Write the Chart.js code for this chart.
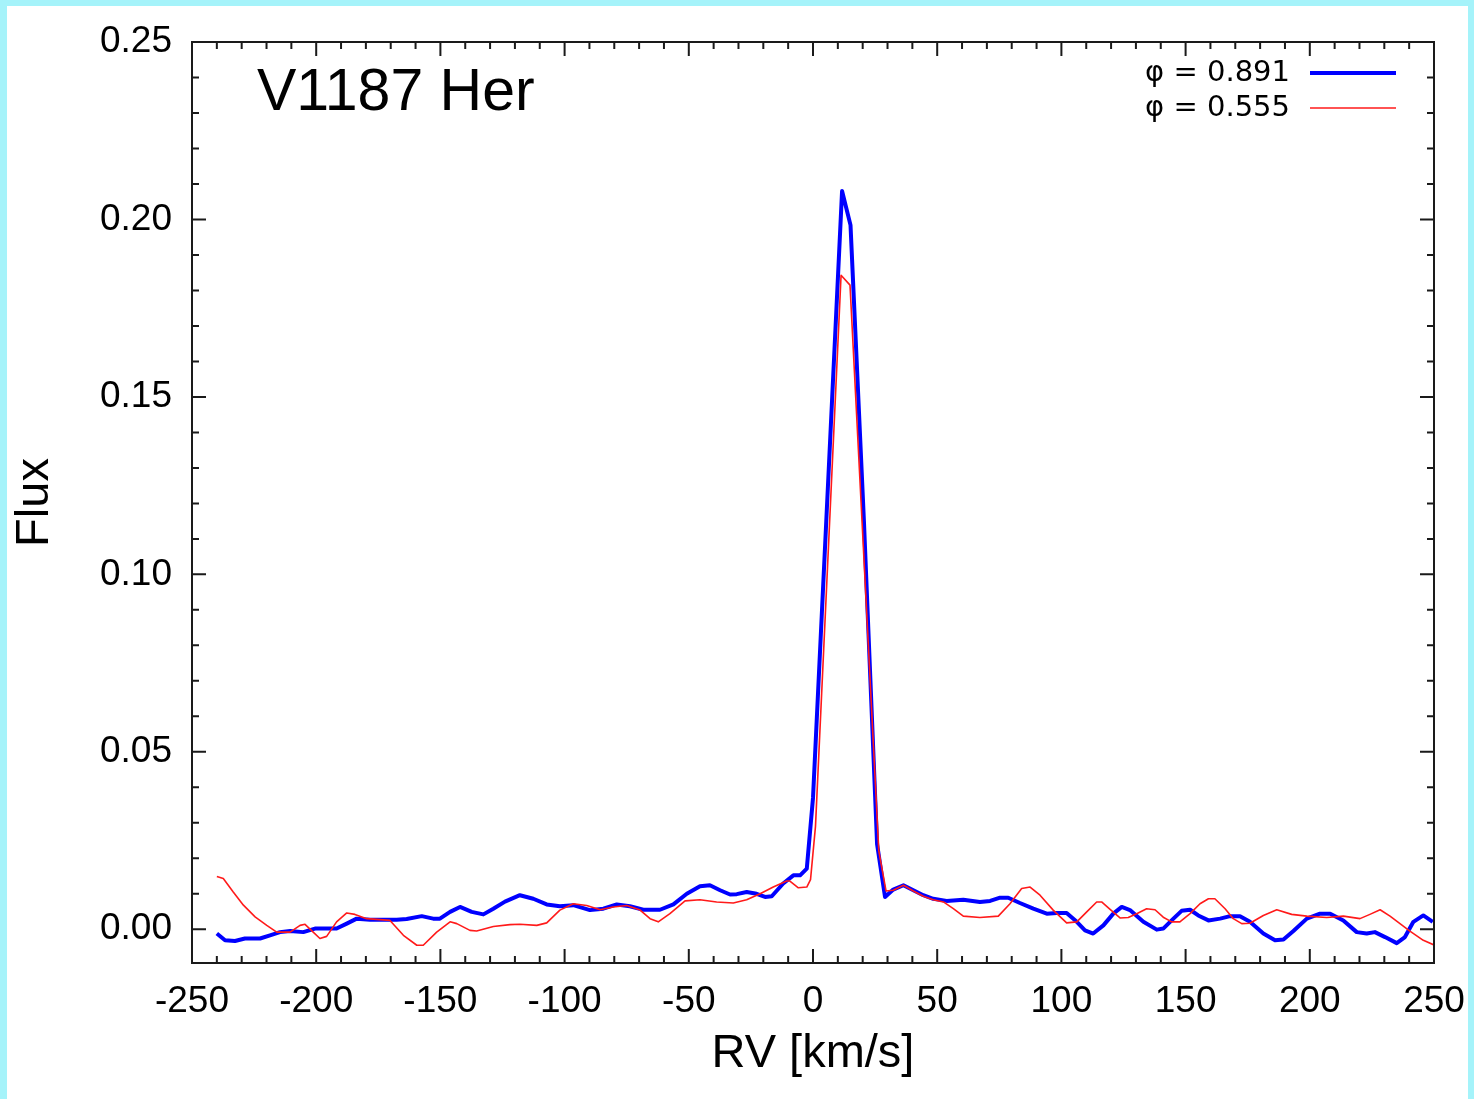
<!DOCTYPE html>
<html>
<head>
<meta charset="utf-8">
<script src="https://cdn.jsdelivr.net/npm/chart.js@4"></script>
<style>
  html, body { margin: 0; padding: 0; }
  body { width: 1474px; height: 1099px; background: #a5f3fa; position: relative; overflow: hidden; }
  #paper { position: absolute; left: 7px; top: 6px; width: 1461px; height: 1093px; background: #fff; }
  #wrap { position: absolute; left: 0; top: 0; width: 1474px; height: 1099px; }
</style>
</head>
<body>
<div id="paper"></div>
<div id="wrap"><canvas id="chart" width="1474" height="1099"></canvas></div>
<script>
const starName = "V1187 Her";
const phaseLabels = ["\u03c6 = 0.891", "\u03c6 = 0.555"];

const xTicks = [-250, -200, -150, -100, -50, 0, 50, 100, 150, 200, 250];
const yTicks = [0, 0.05, 0.10, 0.15, 0.20, 0.25];

// phase 0.891 (blue)
const rvBlue = [
  -240.0, -236.7, -232.7, -228.7, -222.6, -218.6, -214.6, -210.5, -205.2, -200.5,
  -191.8, -187.7, -183.7, -178.3, -167.6, -163.6, -157.5, -152.9, -150.2, -146.1,
  -142.1, -137.4, -132.7, -128.7, -124.0, -118.0, -112.6, -107.2, -101.9, -96.5,
  -89.8, -84.4, -79.0, -73.7, -68.3, -61.6, -56.2, -50.8, -45.5, -41.5,
  -37.4, -33.4, -30.7, -26.7, -22.7, -19.3, -16.6, -12.0, -7.9, -5.2,
  -2.5, 0.0, 5.0, 11.7, 15.1, 20.5, 25.8, 29.0, 32.3, 36.4,
  40.4, 44.4, 48.4, 53.8, 60.5, 67.2, 71.3, 75.3, 78.6, 83.3,
  88.7, 94.1, 98.1, 102.1, 106.2, 109.5, 112.8, 116.9, 120.9, 124.3,
  127.6, 133.0, 138.4, 141.0, 145.1, 148.4, 151.8, 155.1, 159.2, 163.9,
  167.9, 171.9, 175.9, 181.3, 186.0, 189.4, 193.4, 198.8, 204.1, 208.2,
  213.5, 218.9, 222.9, 226.2, 230.3, 235.0, 238.3, 241.7, 245.7, 249.5
];
const fluxBlue = [
  -0.0012, -0.0031, -0.0033, -0.0026, -0.0026, -0.0017, -0.0008, -0.0005, -0.0008, 0.0002,
  0.0002, 0.0016, 0.0030, 0.0027, 0.0027, 0.0029, 0.0037, 0.0030, 0.0030, 0.0049,
  0.0063, 0.0049, 0.0042, 0.0058, 0.0078, 0.0096, 0.0086, 0.0070, 0.0065, 0.0068,
  0.0054, 0.0058, 0.0070, 0.0065, 0.0055, 0.0055, 0.0070, 0.0100, 0.0121, 0.0124,
  0.0110, 0.0098, 0.0099, 0.0105, 0.0100, 0.0091, 0.0093, 0.0129, 0.0152, 0.0152,
  0.0171, 0.0370, 0.1100, 0.2080, 0.1984, 0.1150, 0.0240, 0.0091, 0.0112, 0.0124,
  0.0110, 0.0096, 0.0086, 0.0080, 0.0083, 0.0077, 0.0080, 0.0089, 0.0089, 0.0074,
  0.0058, 0.0044, 0.0046, 0.0046, 0.0021, -0.0003, -0.0012, 0.0011, 0.0044, 0.0063,
  0.0054, 0.0021, -0.0001, 0.0002, 0.0030, 0.0052, 0.0055, 0.0039, 0.0025, 0.0030,
  0.0037, 0.0037, 0.0021, -0.0012, -0.0031, -0.0029, -0.0005, 0.0030, 0.0044, 0.0044,
  0.0025, -0.0008, -0.0012, -0.0008, -0.0022, -0.0039, -0.0022, 0.0021, 0.0039, 0.0021
];

// phase 0.555 (red)
const rvRed = [
  -240.0, -237.4, -233.4, -229.3, -224.6, -219.9, -215.9, -210.5, -206.5, -204.5,
  -201.2, -198.5, -195.8, -191.8, -187.7, -184.4, -179.7, -170.3, -164.9, -159.5,
  -156.9, -151.5, -146.1, -143.4, -138.1, -135.4, -128.7, -122.0, -118.0, -111.2,
  -107.2, -101.9, -96.5, -91.1, -85.7, -80.4, -75.0, -69.6, -65.6, -62.3,
  -57.6, -51.5, -45.5, -38.8, -32.1, -26.7, -21.3, -16.0, -10.6, -9.3,
  -5.9, -2.5, -1.0, 1.0, 11.3, 14.9, 26.5, 29.4, 32.3, 36.4,
  40.4, 44.4, 48.4, 52.5, 56.5, 60.5, 67.2, 74.6, 79.3, 84.0,
  87.4, 91.4, 96.7, 102.1, 106.2, 110.2, 114.2, 116.2, 119.6, 123.6,
  126.9, 130.3, 134.3, 137.7, 141.0, 144.4, 147.7, 151.8, 155.8, 159.2,
  161.8, 165.9, 169.2, 172.6, 175.9, 181.3, 186.7, 192.7, 198.8, 206.8,
  213.5, 220.2, 224.2, 228.3, 232.3, 236.3, 240.3, 245.7, 250.0
];
const fluxRed = [
  0.0149, 0.0143, 0.0105, 0.0068, 0.0035, 0.0011, -0.0008, -0.0008, 0.0011, 0.0014,
  -0.0008, -0.0026, -0.0020, 0.0021, 0.0046, 0.0042, 0.0030, 0.0025, -0.0017, -0.0045,
  -0.0045, -0.0008, 0.0021, 0.0016, -0.0003, -0.0005, 0.0008, 0.0013, 0.0014, 0.0011,
  0.0018, 0.0054, 0.0072, 0.0067, 0.0055, 0.0063, 0.0067, 0.0054, 0.0030, 0.0021,
  0.0044, 0.0080, 0.0083, 0.0077, 0.0074, 0.0083, 0.0100, 0.0119, 0.0136, 0.0136,
  0.0117, 0.0119, 0.0140, 0.0290, 0.1843, 0.1815, 0.0220, 0.0108, 0.0110, 0.0124,
  0.0108, 0.0093, 0.0083, 0.0077, 0.0058, 0.0037, 0.0033, 0.0037, 0.0072, 0.0115,
  0.0119, 0.0096, 0.0054, 0.0018, 0.0021, 0.0049, 0.0077, 0.0077, 0.0056, 0.0032,
  0.0033, 0.0044, 0.0058, 0.0055, 0.0034, 0.0021, 0.0021, 0.0044, 0.0072, 0.0086,
  0.0086, 0.0058, 0.0030, 0.0016, 0.0017, 0.0039, 0.0055, 0.0042, 0.0037, 0.0033,
  0.0037, 0.0030, 0.0042, 0.0055, 0.0037, 0.0016, -0.0005, -0.0031, -0.0044
];

const toPoints = (xs, ys) => xs.map((v, i) => ({x: v, y: ys[i]}));

// inward ticks on all four sides + frame, gnuplot style
const frameTicks = {
  id: "frameTicks",
  afterDatasetsDraw(chart) {
    const {ctx, chartArea: a, scales: {x, y}} = chart;
    ctx.save();
    ctx.strokeStyle = "#1a1a1a";
    ctx.lineWidth = 2;
    ctx.beginPath();
    for (let i = -25; i <= 25; i++) {
      const px = x.getPixelForValue(i * 10);
      const len = i % 5 === 0 ? 14 : 7;
      ctx.moveTo(px, a.bottom); ctx.lineTo(px, a.bottom - len);
      ctx.moveTo(px, a.top); ctx.lineTo(px, a.top + len);
    }
    for (let i = 0; i <= 25; i++) {
      const py = y.getPixelForValue(i / 100);
      const len = i % 5 === 0 ? 14 : 7;
      ctx.moveTo(a.left, py); ctx.lineTo(a.left + len, py);
      ctx.moveTo(a.right, py); ctx.lineTo(a.right - len, py);
    }
    ctx.stroke();
    ctx.strokeRect(a.left, a.top, a.right - a.left, a.bottom - a.top);
    ctx.restore();
  },
  afterDraw(chart) {
    const {ctx, chartArea: a} = chart;
    ctx.save();
    ctx.fillStyle = "#000";
    ctx.font = "59px 'Liberation Sans', Arial, sans-serif";
    ctx.textBaseline = "alphabetic";
    ctx.textAlign = "left";
    ctx.fillText(starName, a.left + 65, a.top + 68);

    ctx.font = "29px 'DejaVu Sans', sans-serif";
    ctx.textAlign = "right";
    ctx.textBaseline = "middle";
    chart.data.datasets.forEach((ds, i) => {
      const yy = a.top + 31 + i * 35;
      ctx.fillStyle = "#000";
      ctx.fillText(ds.label, a.right - 144, yy);
      ctx.strokeStyle = ds.borderColor;
      ctx.lineWidth = ds.borderWidth;
      ctx.beginPath();
      ctx.moveTo(a.right - 124, yy);
      ctx.lineTo(a.right - 38, yy);
      ctx.stroke();
    });
    ctx.restore();
  }
};

const tickFont = {family: "'Liberation Sans', Arial, sans-serif", size: 37};
const titleFont = {family: "'Liberation Sans', Arial, sans-serif", size: 47, lineHeight: 1};

new Chart(document.getElementById("chart"), {
  type: "line",
  data: {
    datasets: [
      {
        label: phaseLabels[0],
        data: toPoints(rvBlue, fluxBlue),
        borderColor: "#0000ff",
        borderWidth: 4,
        pointRadius: 0,
        tension: 0,
        borderJoinStyle: "round",
        order: 2,
      },
      {
        label: phaseLabels[1],
        data: toPoints(rvRed, fluxRed),
        borderColor: "#ff1a1a",
        borderWidth: 1.6,
        pointRadius: 0,
        tension: 0,
        borderJoinStyle: "round",
        order: 1,
      },
    ],
  },
  options: {
    responsive: false,
    animation: false,
    layout: {padding: {top: 42, right: 40, left: 0, bottom: 0}},
    plugins: {legend: {display: false}, tooltip: {enabled: false}},
    scales: {
      x: {
        type: "linear",
        min: -250,
        max: 250,
        afterBuildTicks: (s) => { s.ticks = xTicks.map((v) => ({value: v})); },
        afterFit: (s) => { s.height = 136; s.paddingLeft = 0; s.paddingRight = 0; },
        ticks: {font: tickFont, color: "#000", padding: 17, maxRotation: 0, autoSkip: false,
                callback: (v) => String(v)},
        grid: {display: false, drawTicks: false},
        border: {display: false},
        title: {display: true, text: "RV [km/s]", font: titleFont, color: "#000",
                padding: {top: 0, bottom: 21}},
      },
      y: {
        type: "linear",
        min: -0.0095,
        max: 0.25,
        afterBuildTicks: (s) => { s.ticks = yTicks.map((v) => ({value: v})); },
        afterFit: (s) => { s.width = 192; s.paddingTop = 0; s.paddingBottom = 0; },
        ticks: {font: tickFont, color: "#000", padding: 20, autoSkip: false,
                callback: (v) => Number(v).toFixed(2)},
        grid: {display: false, drawTicks: false},
        border: {display: false},
        title: {display: true, text: "Flux", font: titleFont, color: "#000",
                padding: {top: 12, bottom: 0}},
      },
    },
  },
  plugins: [frameTicks],
});
</script>
</body>
</html>
